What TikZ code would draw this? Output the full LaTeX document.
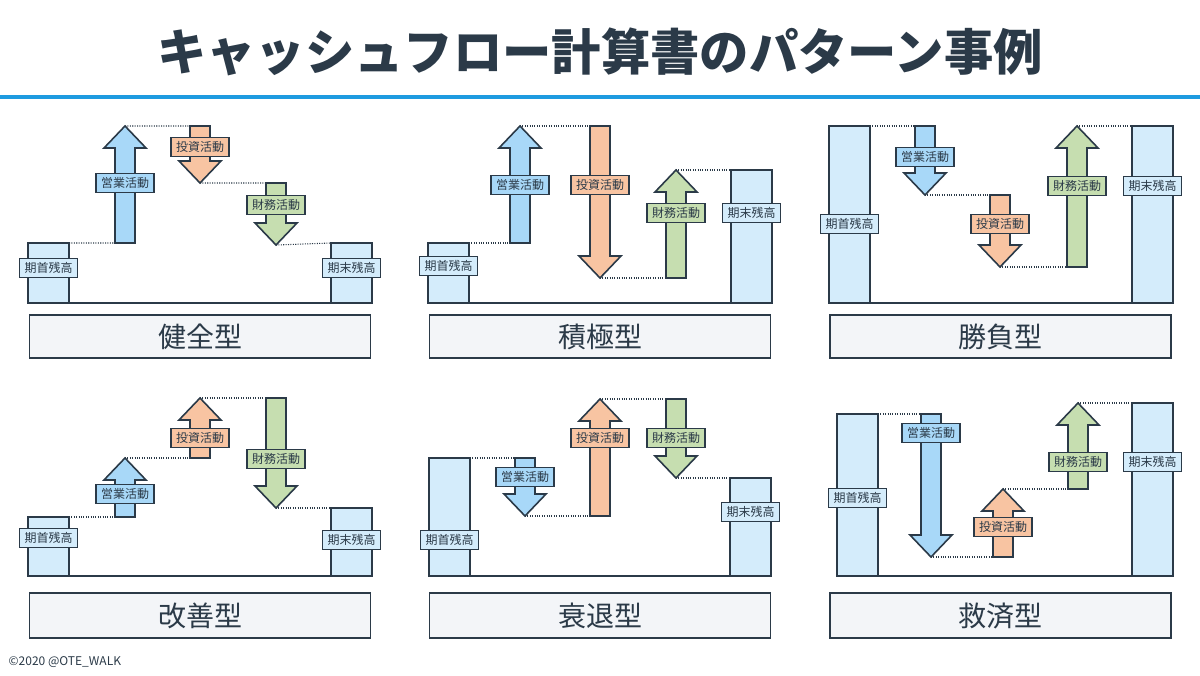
\documentclass[tikz,border=0pt]{standalone}
\usepackage{fontspec}
\setmainfont{Noto Sans CJK JP}
\usetikzlibrary{positioning}
\definecolor{ink}{HTML}{2B3A48}
\definecolor{opblue}{HTML}{A8D8F8}
\definecolor{invorange}{HTML}{F8C4A2}
\definecolor{fingreen}{HTML}{C6DEB0}
\definecolor{balblue}{HTML}{D4ECFB}
\definecolor{rule}{HTML}{1E9BE0}
\definecolor{boxgray}{HTML}{F3F5F8}
\tikzset{%
  cf shape/.style={draw=ink, line width=1.2pt, line join=miter},
  cf label/.style={draw=ink, line width=1.2pt, inner sep=1pt,
    minimum width=43.5pt, minimum height=14.5pt, font=\fontsize{9}{9}\selectfont, text=ink},
  type box/.style={draw=ink, line width=1.2pt, fill=boxgray, text=ink,
    minimum width=256pt, font=\fontsize{21}{22}\selectfont},
  guide/.style={densely dotted, ink, line width=0.8pt}
}
% arrow: name, x, tail y, tip y, colour, label y, text
\newcommand{\cfarrow}[7]{%
  \pgfmathsetmacro\hb{#4-22*sign(#4-#3)}
  \draw[cf shape, fill=#5] (#2-10,#3) -- (#2-10,\hb) -- (#2-21,\hb) -- (#2,#4)
    -- (#2+21,\hb) -- (#2+10,\hb) -- (#2+10,#3) -- cycle;
  \coordinate (#1-tail) at (#2-10,#3);
  \coordinate (#1-tip) at (#2,#4);
  \node[cf label, fill=#5] (#1-lbl) at (#2,#6) {#7};
}
% balance bar: name, left x, top y, base y, label y, text
\newcommand{\cfbal}[6]{%
  \draw[cf shape, fill=balblue] (#2,#4) rectangle (#2+41,#3);
  \coordinate (#1-tl) at (#2,#3);
  \coordinate (#1-tr) at (#2+41,#3);
  \node[cf label, fill=balblue] (#1-lbl) at (#2+20.5,#5) {#6};
}
\begin{document}
\begin{tikzpicture}[x=0.75pt, y=-0.75pt]
\useasboundingbox (0,0) rectangle (1200,675);

\node[text=ink, font=\fontsize{37}{38}\selectfont\bfseries] (title) at (600,52) {キャッシュフロー計算書のパターン事例};
\draw[rule, line width=3pt] (0,97) -- (1200,97);
\node[anchor=west, text=ink, font=\fontsize{9}{10}\selectfont] (credit) at (4,662) {©2020 @OTE\_WALK};

% 健全型
\draw[cf shape] (28,303) -- (372,303);
\cfbal{a0}{28}{243}{303}{268}{期首残高}
\cfarrow{a1}{125}{243}{126}{opblue}{183}{営業活動}
\cfarrow{a2}{200}{126}{183}{invorange}{147}{投資活動}
\cfarrow{a3}{276}{183}{245}{fingreen}{205}{財務活動}
\cfbal{a4}{331}{243}{303}{268}{期末残高}
\draw[guide] (a0-tr) -- (a1-tail) (a1-tip) -- (a2-tail) (a2-tip) -- (a3-tail) (a3-tip) -- (a4-tl);
\node[type box, minimum height=32pt] (pa) at (200,336.5) {健全型};

% 積極型
\draw[cf shape] (428,303) -- (772,303);
\cfbal{b0}{428}{243}{303}{266}{期首残高}
\cfarrow{b1}{520}{243}{126}{opblue}{185}{営業活動}
\cfarrow{b2}{600}{126}{278}{invorange}{185}{投資活動}
\cfarrow{b3}{676}{278}{170}{fingreen}{213}{財務活動}
\cfbal{b4}{731}{170}{303}{213}{期末残高}
\draw[guide] (b0-tr) -- (b1-tail) (b1-tip) -- (b2-tail) (b2-tip) -- (b3-tail) (b3-tip) -- (b4-tl);
\node[type box, minimum height=32pt] (pb) at (600,336.5) {積極型};

% 勝負型
\draw[cf shape] (829,303) -- (1172,303);
\cfbal{c0}{829}{126}{303}{224}{期首残高}
\cfarrow{c1}{925}{126}{195}{opblue}{157}{営業活動}
\cfarrow{c2}{1000}{195}{267}{invorange}{224}{投資活動}
\cfarrow{c3}{1077}{267}{126}{fingreen}{186}{財務活動}
\cfbal{c4}{1132}{126}{303}{186}{期末残高}
\draw[guide] (c0-tr) -- (c1-tail) (c1-tip) -- (c2-tail) (c2-tip) -- (c3-tail) (c3-tip) -- (c4-tl);
\node[type box, minimum height=32pt] (pc) at (1000.5,336.5) {勝負型};

% 改善型
\draw[cf shape] (28,576) -- (372,576);
\cfbal{d0}{28}{517}{576}{538}{期首残高}
\cfarrow{d1}{125}{517}{458}{opblue}{494}{営業活動}
\cfarrow{d2}{200}{458}{398}{invorange}{438}{投資活動}
\cfarrow{d3}{276}{398}{508}{fingreen}{459}{財務活動}
\cfbal{d4}{331}{508}{576}{540}{期末残高}
\draw[guide] (d0-tr) -- (d1-tail) (d1-tip) -- (d2-tail) (d2-tip) -- (d3-tail) (d3-tip) -- (d4-tl);
\node[type box, minimum height=34pt] (pd) at (200,615.5) {改善型};

% 衰退型
\draw[cf shape] (429,576) -- (771,576);
\cfbal{e0}{429}{458}{576}{540}{期首残高}
\cfarrow{e1}{525}{458}{516}{opblue}{477}{営業活動}
\cfarrow{e2}{600}{516}{399}{invorange}{438}{投資活動}
\cfarrow{e3}{676}{399}{478}{fingreen}{438}{財務活動}
\cfbal{e4}{730}{478}{576}{512}{期末残高}
\draw[guide] (e0-tr) -- (e1-tail) (e1-tip) -- (e2-tail) (e2-tip) -- (e3-tail) (e3-tip) -- (e4-tl);
\node[type box, minimum height=34pt] (pe) at (600,615.5) {衰退型};

% 救済型
\draw[cf shape] (837,576) -- (1172,576);
\cfbal{f0}{837}{414}{576}{498}{期首残高}
\cfarrow{f1}{931}{414}{557}{opblue}{433}{営業活動}
\cfarrow{f2}{1003}{557}{489}{invorange}{527}{投資活動}
\cfarrow{f3}{1078}{489}{403}{fingreen}{462}{財務活動}
\cfbal{f4}{1132}{403}{576}{462}{期末残高}
\draw[guide] (f0-tr) -- (f1-tail) (f1-tip) -- (f2-tail) (f2-tip) -- (f3-tail) (f3-tip) -- (f4-tl);
\node[type box, minimum height=34pt] (pf) at (1000.5,615.5) {救済型};
\end{tikzpicture}
\end{document}
